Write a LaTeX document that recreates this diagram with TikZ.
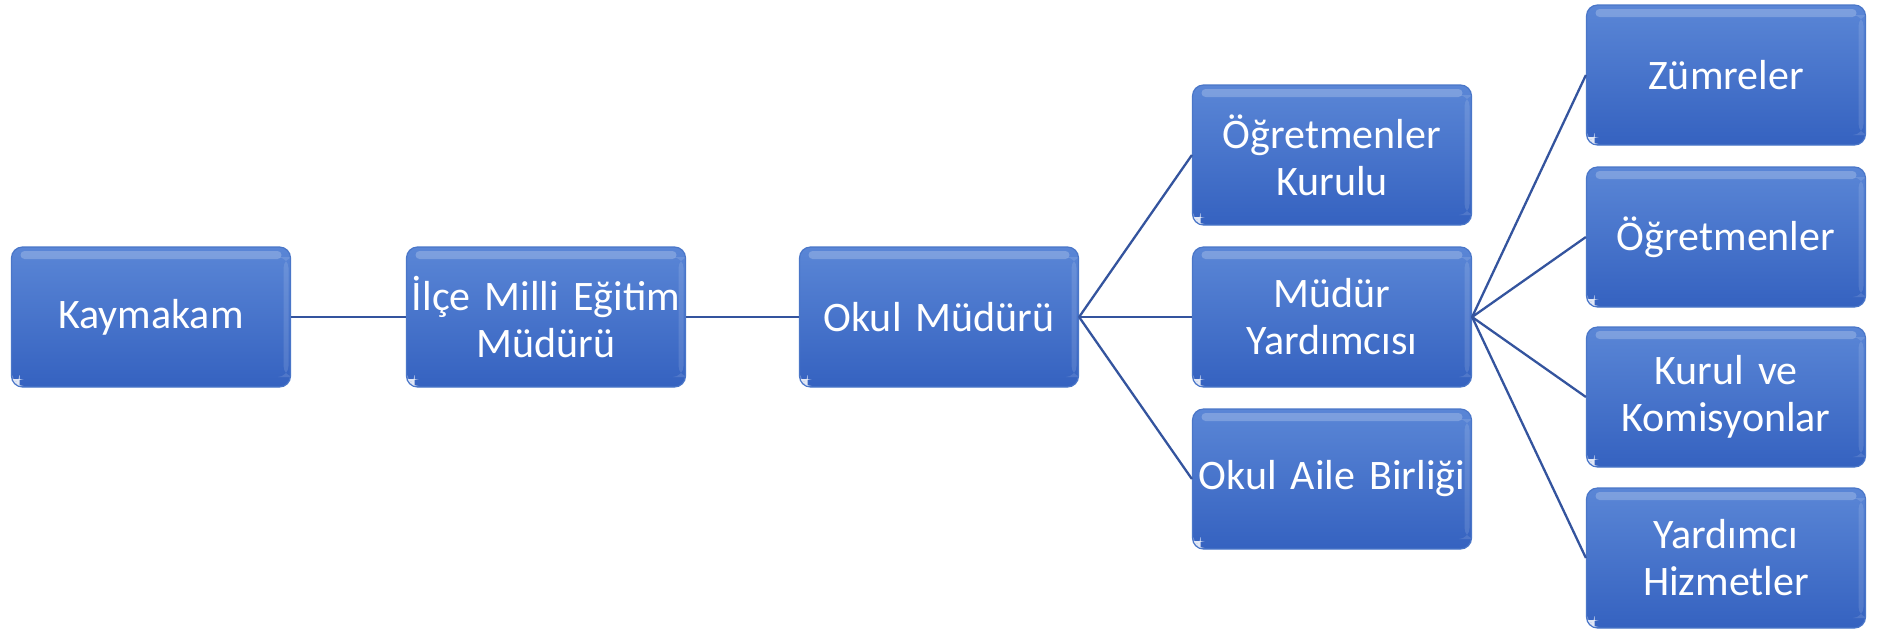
\documentclass[tikz,border=0pt]{standalone}
\usepackage{fontspec}
\setmainfont{Carlito}
\definecolor{boxtop}{HTML}{5A86D6}
\definecolor{boxbot}{HTML}{3562C0}
\definecolor{boxedge}{HTML}{4A76C8}
\definecolor{linkc}{HTML}{34549E}
\tikzset{
  orgbox/.style={rectangle, rounded corners=11pt, minimum width=279pt, minimum height=140pt,
    inner sep=0pt, text width=277pt, align=center, text=white,
    top color=boxtop, bottom color=boxbot, draw=boxedge, line width=1.2pt,
    font=\fontsize{42pt}{47pt}\selectfont,
    path picture={
      \fill[white, opacity=0.22, rounded corners=4pt]
        ([xshift=9pt,yshift=-4pt]path picture bounding box.north west) rectangle
        ([xshift=-9pt,yshift=-12pt]path picture bounding box.north east);
      \fill[white, opacity=0.12]
        ([xshift=-7pt,yshift=-10pt]path picture bounding box.north east) rectangle
        ([xshift=-2pt,yshift=10pt]path picture bounding box.south east);
      \fill[white, opacity=0.85]
        ([xshift=1pt,yshift=1pt]path picture bounding box.south west) rectangle
        ([xshift=8pt,yshift=8pt]path picture bounding box.south west);
    }},
  link/.style={draw=linkc, line width=2.3pt}
}
\begin{document}
\begin{tikzpicture}[x=1pt,y=-1pt]
\useasboundingbox (0,0) rectangle (1879,630);
\node[orgbox] (kay) at (151,317) {Kaymakam};
\node[orgbox] (ilce) at (546,317) {İlçe Milli Eğitim\\Müdürü};
\node[orgbox] (okul) at (939,317) {Okul Müdürü};
\node[orgbox] (ogk) at (1332,155) {Öğretmenler\\Kurulu};
\node[orgbox] (myard) at (1332,317) {Müdür\\Yardımcısı};
\node[orgbox] (oab) at (1332,479) {Okul Aile Birliği};
\node[orgbox] (zum) at (1726,75) {Zümreler};
\node[orgbox] (ogr) at (1726,237) {Öğretmenler};
\node[orgbox] (kur) at (1726,397) {Kurul ve\\Komisyonlar};
\node[orgbox] (yhiz) at (1726,558) {Yardımcı\\Hizmetler};
\draw[link] (kay.east) -- (ilce.west);
\draw[link] (ilce.east) -- (okul.west);
\draw[link] (okul.east) -- (ogk.west);
\draw[link] (okul.east) -- (myard.west);
\draw[link] (okul.east) -- (oab.west);
\draw[link] (myard.east) -- (zum.west);
\draw[link] (myard.east) -- (ogr.west);
\draw[link] (myard.east) -- (kur.west);
\draw[link] (myard.east) -- (yhiz.west);
\end{tikzpicture}
\end{document}
